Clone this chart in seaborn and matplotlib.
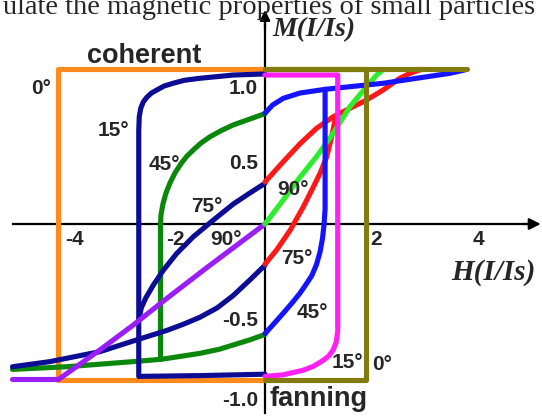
import matplotlib
matplotlib.use("Agg")
import matplotlib.pyplot as plt
import seaborn as sns

sns.set_style("white")
plt.rcParams['font.family'] = ['Liberation Sans', 'DejaVu Sans']

# ---------------- data (H in I/Is, M in I/Is) ----------------
# 0 deg, coherent (orange) and fanning (olive)
h0_coh = [0, -4.1, -4.1, 0]
m0_coh = [1, 1, -1, -1]
h0_fan = [0, 2.0, 2.0, 0, 4.0]
m0_fan = [-1, -1, 1, 1, 1]

# 15 deg coherent (navy) and fanning (magenta)
h15_coh = [0, -0.63, -1.29, -1.6, -1.82, -2.0, -2.14, -2.25, -2.34, -2.41, -2.46, -2.49, -2.5, -2.5, -1.3, 0]
m15_coh = [0.965, 0.958, 0.937, 0.924, 0.905, 0.887, 0.862, 0.842, 0.815, 0.785, 0.745, 0.69, 0.6, -0.98, -0.975, -0.966]
h15_fan = [0, 1.44, 1.44, 1.44, 1.41, 1.35, 1.26, 1.15, 0.96, 0.76, 0.36, 0]
m15_fan = [0.958, 0.958, -0.62, -0.69, -0.76, -0.81, -0.85, -0.877, -0.915, -0.94, -0.97, -0.98]

# 45 deg coherent (green): descending and ascending branches
h45_coh_up = [0, -0.3, -0.63, -0.86, -1.09, -1.27, -1.42, -1.55, -1.66, -1.78, -1.88, -1.96, -2.02, -2.06, -2.07, -2.07]
m45_coh_up = [0.71, 0.675, 0.637, 0.602, 0.561, 0.52, 0.476, 0.435, 0.39, 0.33, 0.265, 0.2, 0.13, 0.06, -0.02, -0.87]
h45_coh_lo = [-5.0, -3.93, -2.61, -2.05, -1.29, -0.9, -0.63, -0.3, 0]
m45_coh_lo = [-0.935, -0.918, -0.885, -0.87, -0.832, -0.805, -0.778, -0.745, -0.71]
# 45 deg fanning (blue)
h45_fan_lo = [0, 0.18, 0.36, 0.53, 0.69, 0.82, 0.93, 1.02, 1.09, 1.14, 1.17, 1.19, 1.19]
m45_fan_lo = [-0.705, -0.64, -0.574, -0.51, -0.446, -0.385, -0.33, -0.26, -0.18, -0.09, 0.0, 0.1, 0.866]
h45_fan_up = [0, 0.15, 0.36, 0.69, 1.19, 1.68, 2.34, 3.0, 3.66, 3.95]
m45_fan_up = [0.713, 0.765, 0.808, 0.842, 0.866, 0.883, 0.905, 0.937, 0.969, 0.99]

# 75 deg coherent (navy)
h75_coh_up = [0, -0.32, -0.63, -1.02, -1.42, -1.75, -2.01, -2.21, -2.36, -2.45, -2.5]
m75_coh_up = [0.262, 0.195, 0.128, 0.026, -0.082, -0.19, -0.296, -0.392, -0.475, -0.54, -0.62]
h75_coh_lo = [-5.0, -4.26, -3.27, -2.51, -1.95, -1.62, -1.29, -0.95, -0.63, -0.3, 0]
m75_coh_lo = [-0.918, -0.885, -0.821, -0.742, -0.685, -0.645, -0.60, -0.54, -0.46, -0.36, -0.265]
# 75 deg fanning (red)
h75_fan_lo = [0, 0.23, 0.5, 0.76, 0.96, 1.09, 1.22, 1.32, 1.4]
m75_fan_lo = [-0.258, -0.167, -0.039, 0.111, 0.24, 0.326, 0.43, 0.56, 0.69]
h75_fan_up = [0, 0.36, 0.69, 1.02, 1.35, 1.68, 2.01, 2.34, 2.67, 2.87, 3.1]
m75_fan_up = [0.27, 0.40, 0.515, 0.615, 0.69, 0.744, 0.797, 0.862, 0.937, 0.969, 0.995]

# 90 deg coherent (purple) and fanning (lime)
h90_coh = [0, -1.15, -1.95, -2.61, -3.27, -4.09, -5.0]
m90_coh = [0, -0.28, -0.48, -0.65, -0.81, -1.0, -1.0]
h90_fan = [0, 0.36, 0.69, 1.02, 1.35, 1.68, 2.01, 2.21, 2.35]
m90_fan = [0, 0.154, 0.30, 0.433, 0.583, 0.754, 0.883, 0.958, 0.995]

x_ticks_major = [-2, 2, 4]
x_ticks_minor = [-5, -4, -3, -1, 1, 3, 5]
y_ticks_major = [0.746, 0.5, -0.5, -0.735]
y_ticks_minor = [1.235, -1.06, -1.215]
x_tick_labels = ["-4", "-2", "2", "4"]
y_tick_labels = ["1.0", "0.5", "-0.5", "-1.0"]

# ---------------- figure ----------------
W, H = 542, 416
fig = plt.figure(figsize=(W / 100, H / 100), dpi=100)
ax = fig.add_axes([0, 0, 1, 1])
X0, Y0, SX, SY = 265.0, 224.0, 50.5, 155.5
ax.set_xlim((0 - X0) / SX, (W - X0) / SX)
ax.set_ylim((Y0 - H) / SY, (Y0 - 0) / SY)

for s in ['top', 'right']:
    ax.spines[s].set_visible(False)
ax.spines['left'].set_position(('data', 0))
ax.spines['bottom'].set_position(('data', 0))
ax.spines['left'].set_bounds(-1.215, 1.30)
ax.spines['bottom'].set_bounds(-5.0, 5.2)
for s in ['left', 'bottom']:
    ax.spines[s].set_linewidth(1.6)
    ax.spines[s].set_color('black')
    ax.spines[s].set_zorder(2)

ax.set_xticks(x_ticks_major)
ax.set_xticks(x_ticks_minor, minor=True)
ax.set_yticks(y_ticks_major)
ax.set_yticks(y_ticks_minor, minor=True)
ax.tick_params(axis='x', which='major', direction='in', length=10, width=1.5, labelbottom=False, color='black')
ax.tick_params(axis='x', which='minor', direction='in', length=5, width=1.5, color='black')
ax.tick_params(axis='y', which='major', direction='in', length=9.5, width=1.5, labelleft=False, color='black')
ax.tick_params(axis='y', which='minor', direction='in', length=4, width=1.5, color='black')

# arrows
ax.annotate('', xy=(5.46, 0), xytext=(5.1, 0),
            arrowprops=dict(arrowstyle='-|>', color='black', lw=1.6, mutation_scale=17, shrinkA=0, shrinkB=0))
ax.annotate('', xy=(0, (Y0 - 10) / SY), xytext=(0, 1.25),
            arrowprops=dict(arrowstyle='-|>', color='black', lw=1.6, mutation_scale=15, shrinkA=0, shrinkB=0))

LW = 3.7
def curve(h, m, color):
    sns.lineplot(x=h, y=m, sort=False, estimator=None, color=color, lw=LW, ax=ax,
                 legend=False, solid_capstyle='round', solid_joinstyle='round', zorder=3)

C_OR = '#ff8a1c'
C_OL = '#827c10'
C_NV = '#0c0c94'
C_GR = '#0b870b'
C_BL = '#1414ff'
C_RD = '#ff1818'
C_LM = '#2cee2c'
C_MG = '#ff20f4'
C_PU = '#9a1ef5'

curve(h0_coh, m0_coh, C_OR)
curve(h45_coh_lo, m45_coh_lo, C_GR)
curve(h45_coh_up, m45_coh_up, C_GR)
curve(h75_coh_lo, m75_coh_lo, C_NV)
curve(h75_coh_up, m75_coh_up, C_NV)
curve(h15_coh, m15_coh, C_NV)
curve(h90_coh, m90_coh, C_PU)
curve(h75_fan_up, m75_fan_up, C_RD)
curve(h75_fan_lo, m75_fan_lo, C_RD)
curve(h90_fan, m90_fan, C_LM)
curve(h45_fan_up, m45_fan_up, C_BL)
curve(h45_fan_lo, m45_fan_lo, C_BL)
curve(h15_fan, m15_fan, C_MG)
curve(h0_fan, m0_fan, C_OL)
ax.set_xlabel('')
ax.set_ylabel('')

# ---------------- text ----------------
def ftxt(px, py, s, size=15, ha='center', va='center', **kw):
    fig.text(px / W, 1 - py / H, s, fontsize=size, ha=ha, va=va, fontweight='bold', **kw)

# tick labels
for (px, s) in zip([74, 175, 376, 478], x_tick_labels):
    ftxt(px, 240, s)
for (py, s) in zip([89, 164, 321, 400], y_tick_labels):
    ftxt(258, py, s, ha='right')

# angle labels
ftxt(41.5, 88, '0°')
ftxt(113, 131, '15°')
ftxt(164, 165, '45°')
ftxt(207, 206, '75°')
ftxt(226, 240, '90°')
ftxt(293, 190, '90°')
ftxt(297, 258, '75°')
ftxt(312, 313, '45°')
ftxt(347, 363, '15°')
ftxt(382, 365, '0°')

ftxt(144, 63, 'coherent', size=19.5, va='baseline')
ftxt(319, 406, 'fanning', size=19.5, va='baseline')

fig.text(314 / W, 1 - 30 / H, 'M(I/Is)', fontsize=20, ha='center', va='center',
         family='Liberation Serif', fontweight='bold', style='italic')
fig.text(493 / W, 1 - 273 / H, 'H(I/Is)', fontsize=21, ha='center', va='center',
         family='Liberation Serif', fontweight='bold', style='italic')

fig.text(3 / W, 1 - 14 / H, 'ulate the magnetic properties of small particles', fontsize=20.5,
         ha='left', va='baseline', family='Liberation Serif')

fig.savefig('out.png', dpi=100, facecolor='white')
